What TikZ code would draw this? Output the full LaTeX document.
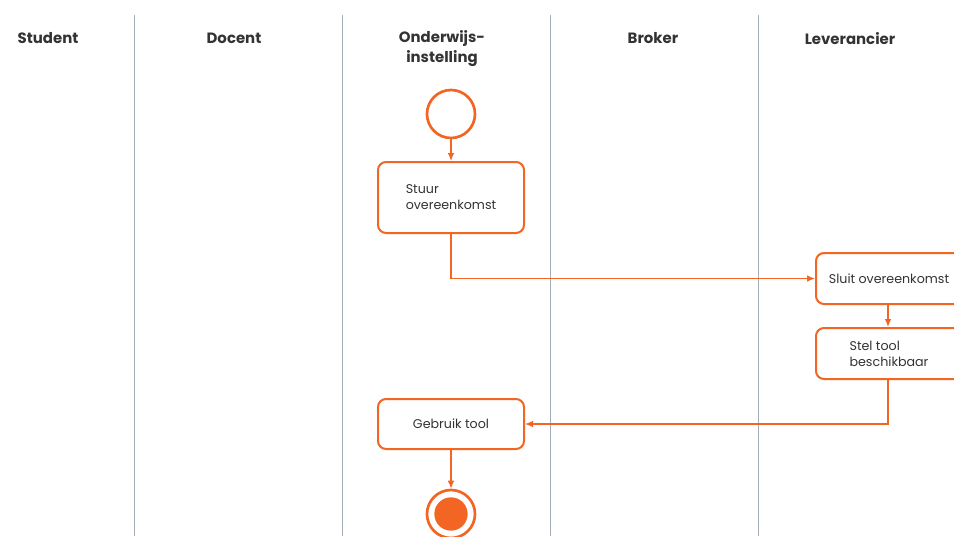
\documentclass[tikz,border=0pt]{standalone}
\usepackage{fontspec}
\setmainfont{Poppins}
\usetikzlibrary{arrows.meta}
\definecolor{orng}{HTML}{F26522}
\definecolor{lanegray}{HTML}{A3ADB8}
\definecolor{txt}{HTML}{333333}
\tikzset{
  lane/.style={draw=lanegray, line width=0.7pt},
  head/.style={font=\fontsize{11.2}{14.5}\selectfont\bfseries, text=txt, align=center, inner sep=0pt},
  actbox/.style={draw=orng, line width=1.5pt, rounded corners=6pt, fill=white, font=\fontsize{9.5}{12}\selectfont, text=txt, align=left, minimum width=109.5pt},
  flow/.style={draw=orng, line width=0.9pt, -{Latex[length=6pt,width=5pt]}},
  startc/.style={circle, draw=orng, line width=2pt, minimum size=36pt, inner sep=0pt},
}
\begin{document}
\begin{tikzpicture}[x=0.75pt,y=-0.75pt]
\clip (0,0) rectangle (954,536);
\fill[white] (0,0) rectangle (954,536);
% lanes
\foreach \xx/\nm in {134/a,342/b,550/c,758/d}{
  \coordinate (t\nm) at (\xx,15);
  \coordinate (b\nm) at (\xx,536);
  \draw[lane] (t\nm) -- (b\nm);
}
% headers
\node[head] (hstudent) at (48,38.5) {Student};
\node[head] (hdocent) at (234,38.5) {Docent};
\node[head] (honder) at (442,48.5) {Onderwijs-\\instelling};
\node[head] (hbroker) at (653,38.5) {Broker};
\node[head] (hlever) at (850,38.5) {Leverancier};
% nodes
\node[startc] (start) at (451,114) {};
\node[actbox, minimum height=53.25pt] (stuur) at (451,197.5) {Stuur\\overeenkomst};
\node[actbox, minimum height=38.25pt] (sluit) at (889,278.5) {Sluit overeenkomst};
\node[actbox, minimum height=38.25pt] (stel) at (889,353.5) {Stel tool\\beschikbaar};
\node[actbox, minimum height=37.5pt] (gebruik) at (451,424) {Gebruik tool};
\node[circle, draw=orng, line width=2pt, minimum size=36pt, inner sep=0pt] (end) at (451,514) {};
\node[circle, fill=orng, minimum size=25pt, inner sep=0pt] (endin) at (451,514) {};
% connectors
\draw[flow] (start) -- (stuur);
\draw[flow] (stuur.south) |- (sluit.west);
\draw[flow] (sluit.south -| 888,0) -- (stel.north -| 888,0);
\draw[flow] (stel.south -| 888,0) |- (gebruik.east);
\draw[flow] (gebruik) -- (end);
\end{tikzpicture}
\end{document}
